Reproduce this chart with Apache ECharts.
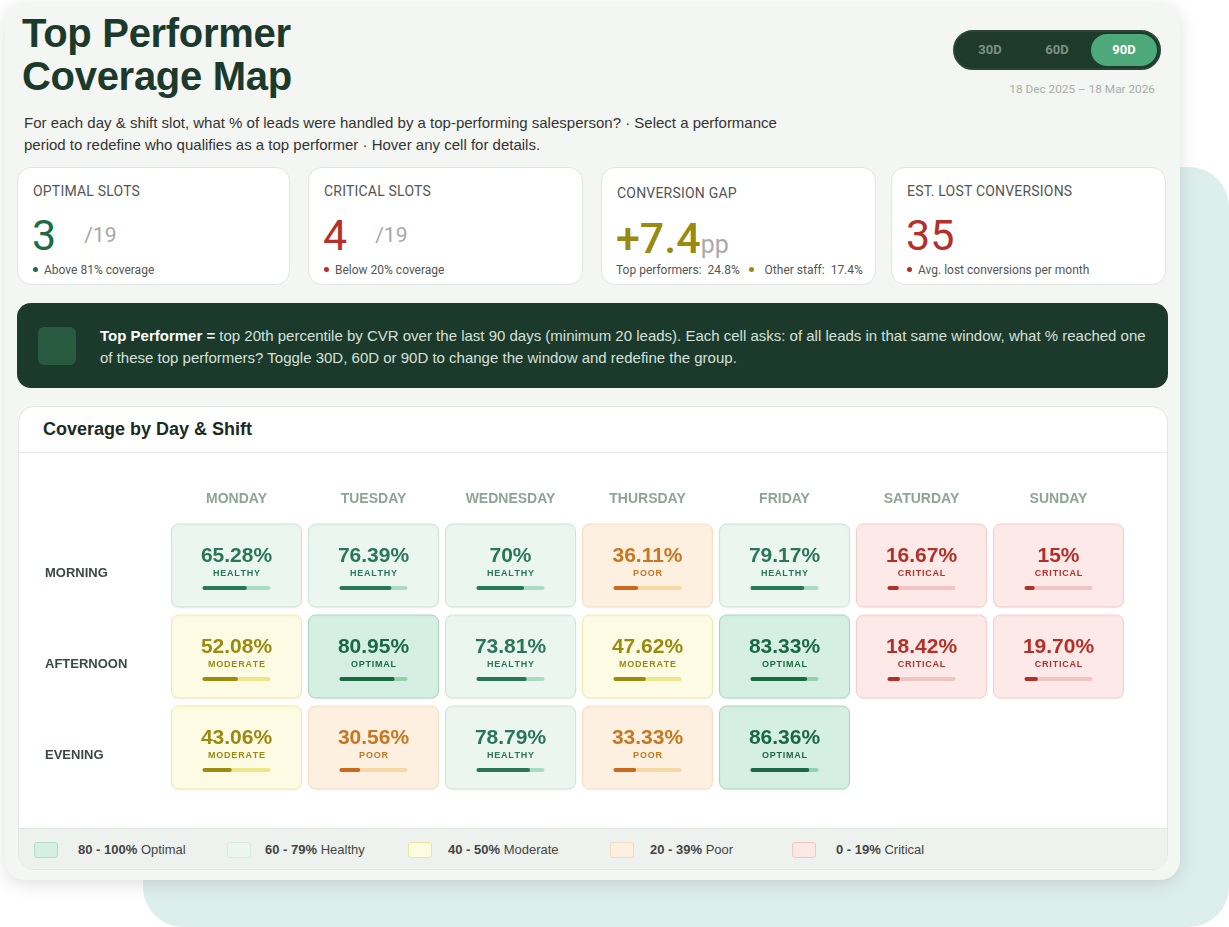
<!DOCTYPE html>
<html>
<head>
<meta charset="utf-8">
<script src="https://cdn.jsdelivr.net/npm/echarts@6/dist/echarts.min.js"></script>
<style>
  html,body{margin:0;padding:0;background:#ffffff;width:1229px;height:927px;overflow:hidden;font-family:"Liberation Sans",Arial,sans-serif;}
  .abs{position:absolute;}
  #teal{left:143px;top:167px;width:1086px;height:760px;border-radius:40px;background:#ddefec;}
  #card{left:5px;top:3px;width:1175px;height:877px;border-radius:20px;background:#f3f6f3;box-shadow:0 4px 18px rgba(0,0,0,0.13);}
  .title{left:22px;top:12px;font-size:40px;font-weight:bold;color:#1b3a2b;line-height:43px;letter-spacing:-0.3px;}
  .sub{left:24px;top:112px;width:765px;font-size:15px;line-height:22px;color:#333;}
  #toggle{left:953px;top:30px;width:204px;height:36px;border-radius:20px;background:#1d3a2b;border:2px solid #2b4636;}
  .tg{position:absolute;top:0;height:36px;line-height:36px;font-family:Roboto,sans-serif;font-weight:bold;font-size:13px;color:#7f9186;text-align:center;width:66px;}
  .tg.on{background:#4da97a;color:#fff;border-radius:18px;top:2px;height:32px;line-height:32px;}
  .date{right:74px;top:82px;font-family:Roboto,sans-serif;font-size:11.8px;color:#a9aeab;}
  .kpi{top:167px;height:118px;width:273px;background:#fff;border:1px solid #e2e6e2;border-radius:14px;box-sizing:border-box;}
  .klab{position:absolute;left:15px;top:15px;font-family:Roboto,sans-serif;font-size:14px;color:#555;letter-spacing:0.2px;}
  .knum{position:absolute;left:14px;top:42px;font-family:Roboto,sans-serif;font-size:43px;line-height:50px;font-weight:400;}
  .kof{font-size:21px;color:#a7a7a7;margin-left:28px;vertical-align:8px;font-weight:400;}
  .kfoot{position:absolute;left:15px;top:95px;font-family:Roboto,sans-serif;font-size:12px;color:#555;}
  .dot{display:inline-block;width:5px;height:5px;border-radius:50%;margin-right:6px;vertical-align:2px;}
  #banner{left:17px;top:303px;width:1151px;height:85px;border-radius:14px;background:#1c3a2b;}
  #icon{left:38px;top:327px;width:38px;height:38px;border-radius:6px;background:#285a3f;}
  .btxt{left:100px;top:325px;width:1050px;font-size:15px;line-height:22px;color:#d6e0da;}
  .btxt b{color:#fff;}
  #panel{left:18px;top:406px;width:1150px;height:464px;border-radius:16px;background:#fff;border:1px solid #e3e7e3;box-sizing:border-box;overflow:hidden;}
  .ptitle{position:absolute;left:24px;top:12px;font-size:18px;font-weight:bold;color:#1b2b22;}
  .pdiv{position:absolute;left:0;top:45px;width:100%;height:1px;background:#e8ece8;}
  .legend{position:absolute;left:0;top:421px;width:100%;height:43px;background:#eef2ee;border-top:1px solid #e3e8e3;}
  .li{position:absolute;top:13px;font-size:13px;color:#444;line-height:16px;}
  .sw{position:absolute;top:13px;width:22px;height:14px;border-radius:3px;border:1px solid;}
  #chart{left:18px;top:453px;width:1150px;height:375px;}
</style>
</head>
<body>
<div id="teal" class="abs"></div>
<div id="card" class="abs"></div>
<div class="abs title">Top Performer<br>Coverage Map</div>
<div class="abs sub">For each day &amp; shift slot, what % of leads were handled by a top-performing salesperson? · Select a performance period to redefine who qualifies as a top performer · Hover any cell for details.</div>
<div id="toggle" class="abs">
  <div class="tg" style="left:2px;">30D</div>
  <div class="tg" style="left:69px;">60D</div>
  <div class="tg on" style="left:136px;">90D</div>
</div>
<div class="abs date">18 Dec 2025 – 18 Mar 2026</div>

<div class="abs kpi" style="left:17px;">
  <div class="klab">OPTIMAL SLOTS</div>
  <div class="knum" style="color:#1e6b4a;">3<span class="kof">/19</span></div>
  <div class="kfoot"><span class="dot" style="background:#1e6b4a"></span>Above 81% coverage</div>
</div>
<div class="abs kpi" style="left:308px;width:275px;">
  <div class="klab">CRITICAL SLOTS</div>
  <div class="knum" style="color:#b5302a;">4<span class="kof">/19</span></div>
  <div class="kfoot"><span class="dot" style="background:#b5302a"></span>Below 20% coverage</div>
</div>
<div class="abs kpi" style="left:601px;width:275px;">
  <div class="klab" style="top:17px;">CONVERSION GAP</div>
  <div class="knum" style="color:#9a8a12;font-weight:500;top:45px;">+7.4<span style="font-size:25px;color:#aaa;font-weight:400;">pp</span></div>
  <div class="kfoot" style="left:14px;">Top performers:&nbsp; 24.8% &nbsp;&nbsp;<span class="dot" style="background:#9a8a12;margin-right:8px;"></span>&nbsp;Other staff:&nbsp; 17.4%</div>
</div>
<div class="abs kpi" style="left:891px;width:275px;">
  <div class="klab">EST. LOST CONVERSIONS</div>
  <div class="knum" style="color:#b5302a;">35</div>
  <div class="kfoot"><span class="dot" style="background:#b5302a"></span>Avg. lost conversions per month</div>
</div>

<div id="banner" class="abs"></div>
<div id="icon" class="abs"></div>
<div class="abs btxt"><b>Top Performer =</b> top 20th percentile by CVR over the last 90 days (minimum 20 leads). Each cell asks: of all leads in that same window, what % reached one of these top performers? Toggle 30D, 60D or 90D to change the window and redefine the group.</div>

<div id="panel" class="abs">
  <div class="ptitle">Coverage by Day &amp; Shift</div>
  <div class="pdiv"></div>
  <div class="legend">
    <div class="sw" style="left:15px;background:#d5efe2;border-color:#b2dcc6;"></div>
    <div class="li" style="left:59px;"><b>80 - 100%</b> Optimal</div>
    <div class="sw" style="left:208px;background:#ecf6f1;border-color:#d6ebe0;"></div>
    <div class="li" style="left:246px;"><b>60 - 79%</b> Healthy</div>
    <div class="sw" style="left:389px;background:#fefbe3;border-color:#ece49a;"></div>
    <div class="li" style="left:429px;"><b>40 - 50%</b> Moderate</div>
    <div class="sw" style="left:591px;background:#fdf0e0;border-color:#f4dcc0;"></div>
    <div class="li" style="left:631px;"><b>20 - 39%</b> Poor</div>
    <div class="sw" style="left:773px;background:#fde8e6;border-color:#f2c4c4;"></div>
    <div class="li" style="left:817px;"><b>0 - 19%</b> Critical</div>
  </div>
</div>
<div id="chart" class="abs"></div>

<script>
const days = ['MONDAY','TUESDAY','WEDNESDAY','THURSDAY','FRIDAY','SATURDAY','SUNDAY'];
const shifts = ['MORNING','AFTERNOON','EVENING'];
const morningCoverage   = [65.28, 76.39, 70, 36.11, 79.17, 16.67, 15];
const afternoonCoverage = [52.08, 80.95, 73.81, 47.62, 83.33, 18.42, 19.70];
const eveningCoverage   = [43.06, 30.56, 78.79, 33.33, 86.36, null, null];
const coverageByShift = [morningCoverage, afternoonCoverage, eveningCoverage];

const levels = [
  {min:80, label:'OPTIMAL',  bg:'#d5efe2', border:'#a9d6bf', text:'#1b6844', bar:'#1b6844', track:'#93d1b0'},
  {min:60, label:'HEALTHY',  bg:'#ebf6f0', border:'#cde6d9', text:'#2a7658', bar:'#2a7658', track:'#a9dcc3'},
  {min:40, label:'MODERATE', bg:'#fefbe4', border:'#f1eaae', text:'#9a8a10', bar:'#9e8a10', track:'#ede68c'},
  {min:20, label:'POOR',     bg:'#fdf0e1', border:'#f5dfc6', text:'#c8761f', bar:'#c9691b', track:'#f5d8a6'},
  {min:0,  label:'CRITICAL', bg:'#fde9e7', border:'#f4cfcd', text:'#b3302a', bar:'#b3302a', track:'#f3c4c4'}
];
function levelOf(v){ for (const l of levels) if (v >= l.min) return l; return levels[levels.length-1]; }
function fmt(v){ return (Number.isInteger(v) ? String(v) : v.toFixed(2)) + '%'; }
function spaced(s){ return s.split('').join('\u200A'); }

const data = [];
coverageByShift.forEach((row, yi) => row.forEach((v, xi) => { if (v !== null) data.push([xi, yi, v]); }));

const chart = echarts.init(document.getElementById('chart'), null, {renderer:'canvas'});
chart.setOption({
  animation:false,
  grid:{left:150, top:67, width:959, height:273},
  xAxis:{type:'category', data:days, position:'top',
    axisLine:{show:false}, axisTick:{show:false}, splitLine:{show:false},
    axisLabel:{margin:14, color:'#8da596', fontWeight:'bold', fontSize:14, fontFamily:'"Liberation Sans", Arial, sans-serif'}},
  yAxis:{type:'category', data:shifts, inverse:true,
    axisLine:{show:false}, axisTick:{show:false}, splitLine:{show:false},
    axisLabel:{margin:123, align:'left', verticalAlign:'top', padding:[1,0,0,0], color:'#3a4a40', fontWeight:'bold', fontSize:13, fontFamily:'"Liberation Sans", Arial, sans-serif'}},
  series:[{
    type:'custom',
    data:data,
    renderItem:function(params, api){
      const xi = api.value(0), yi = api.value(1), v = api.value(2);
      const c = api.coord([xi, yi]);
      const sz = api.size([1, 1]);
      const w = sz[0] - 7, h = sz[1] - 8;
      const L = levelOf(v);
      const bw = 68;
      return {type:'group', children:[
        {type:'rect', shape:{x:c[0]-w/2, y:c[1]-h/2, width:w, height:h, r:7},
          style:{fill:L.bg, stroke:L.border, lineWidth:1, shadowBlur:3, shadowColor:'rgba(0,0,0,0.05)', shadowOffsetY:1}},
        {type:'text', style:{text:fmt(v), x:c[0], y:c[1]-9.5, align:'center', verticalAlign:'middle',
          font:'bold 21px "Liberation Sans", Arial, sans-serif', fill:L.text}},
        {type:'text', style:{text:spaced(L.label), x:c[0], y:c[1]+8.5, align:'center', verticalAlign:'middle',
          font:'bold 9px "Liberation Sans", Arial, sans-serif', fill:L.text}},
        {type:'rect', shape:{x:c[0]-bw/2, y:c[1]+20.5, width:bw, height:4, r:2}, style:{fill:L.track}},
        {type:'rect', shape:{x:c[0]-bw/2, y:c[1]+20.5, width:bw*v/100, height:4, r:2}, style:{fill:L.bar}}
      ]};
    }
  }]
});
</script>
</body>
</html>
